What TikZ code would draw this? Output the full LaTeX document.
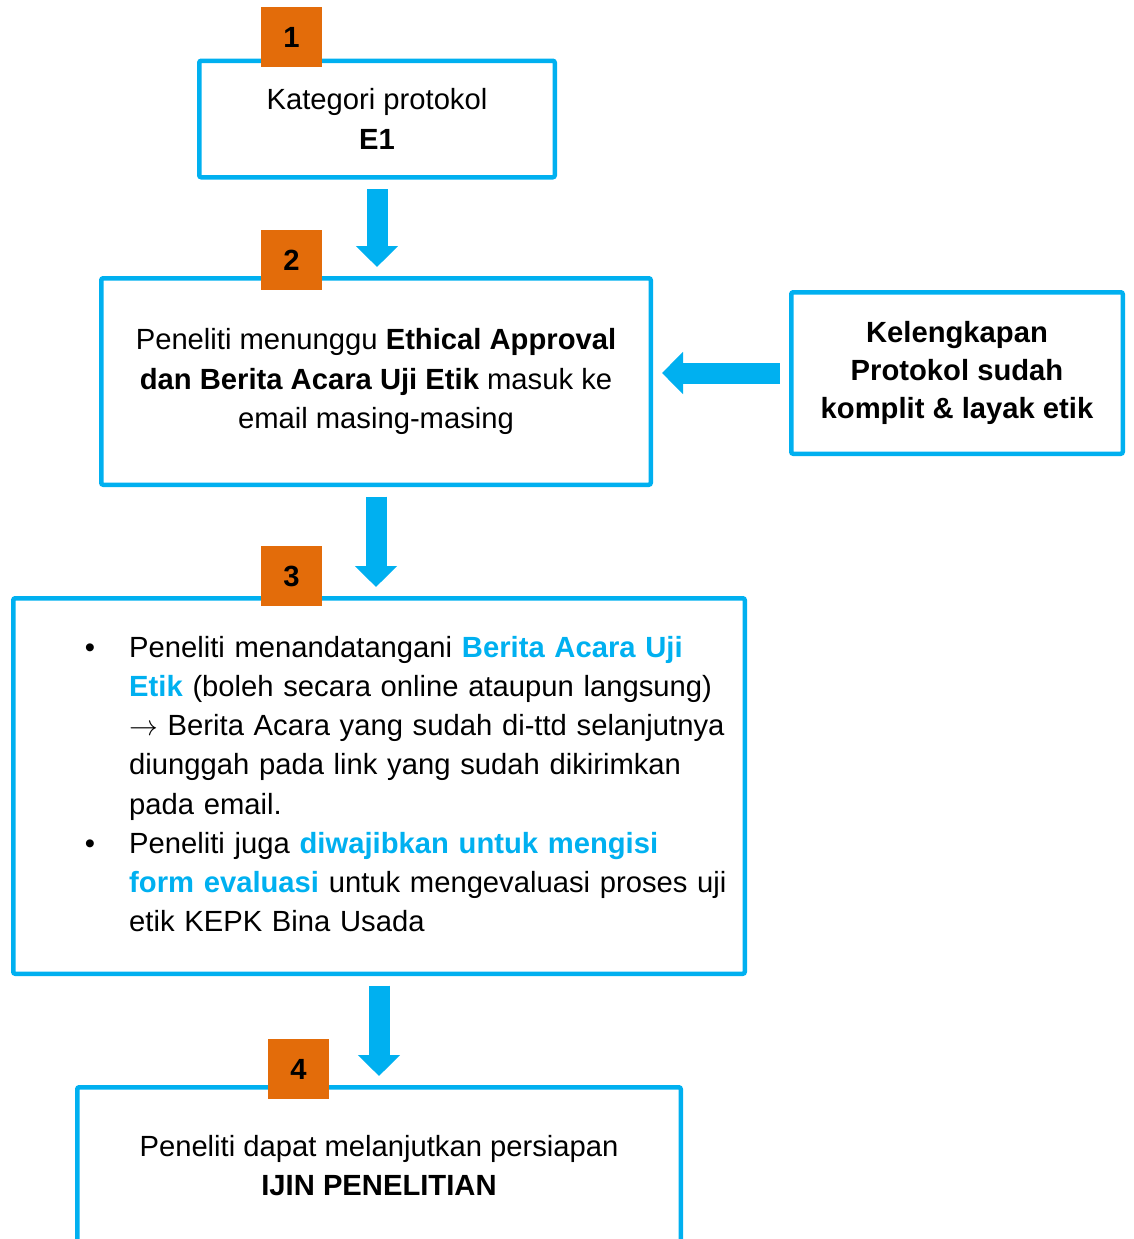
\documentclass[tikz,border=0pt]{standalone}
\usepackage{fontspec}
\setmainfont{Liberation Sans}
\usetikzlibrary{arrows.meta}
\definecolor{kepkblue}{HTML}{00B0F0}
\definecolor{kepkorange}{HTML}{E36C0A}

\begin{document}
\begin{tikzpicture}[x=0.5pt, y=-0.5pt, font=\fontsize{14.6pt}{19.6pt}\selectfont]
    \tikzstyle{box}=[draw=kepkblue, line width=2.25pt, rounded corners=1pt, align=center, inner sep=0pt]
    \tikzstyle{badge}=[fill=kepkorange, minimum width=30.5pt, minimum height=30pt, inner sep=0pt, font=\fontsize{14.6pt}{19.6pt}\selectfont\bfseries]
    \tikzstyle{flow}=[kepkblue, line width=10.5pt, -{Triangle[width=20.5pt, length=10.5pt]}, shorten <=4.75pt, shorten >=4.5pt]

    \useasboundingbox (0,0) rectangle (1134,1239);
    \clip (0,0) rectangle (1134,1239);

    % step boxes
    \node[box, minimum width=177.75pt, minimum height=58.25pt] (b1) at (377,119)
        {Kategori protokol\\ \textbf{E1}};
    \node[box, minimum width=274.75pt, minimum height=103.25pt] (b2) at (376,381.5)
        {Peneliti menunggu \textbf{Ethical Approval}\\
         \textbf{dan Berita Acara Uji Etik} masuk ke\\
         email masing-masing};
    \node[box, minimum width=365.75pt, minimum height=187.75pt] (b3) at (379,786) {};
    \node[box, minimum width=301.75pt, minimum height=78.25pt] (b4) at (379,1165.5)
        {Peneliti dapat melanjutkan persiapan\\ \textbf{IJIN PENELITIAN}};

    % side box
    \node[box, minimum width=165.75pt, minimum height=80.75pt, font=\fontsize{14.6pt}{19.2pt}\selectfont\bfseries] (side) at (957,373)
        {Kelengkapan\\ Protokol sudah\\ komplit \& layak etik};

    % text of step 3
    \node[anchor=west, align=left, text width=300pt, inner sep=0pt] (t3) at ([xshift=58.9pt, yshift=1pt]b3.west) {%
        \leavevmode\llap{\textbullet\hspace{17pt}}Peneliti menandatangani \textcolor{kepkblue}{\textbf{Berita Acara Uji}}\\
        \textcolor{kepkblue}{\textbf{Etik}} (boleh secara online ataupun langsung)\\
        $\rightarrow$ Berita Acara yang sudah di-ttd selanjutnya\\
        diunggah pada link yang sudah dikirimkan\\
        pada email.\\
        \leavevmode\llap{\textbullet\hspace{17pt}}Peneliti juga \textcolor{kepkblue}{\textbf{diwajibkan untuk mengisi}}\\
        \textcolor{kepkblue}{\textbf{form evaluasi}} untuk mengevaluasi proses uji\\
        etik KEPK Bina Usada};

    % arrows between the steps
    \foreach \src/\dst in {b1/b2, b2/b3, b3/b4}
    \draw[flow] (\src.south) -- (\src.south |- \dst.north);

    \draw[flow] (side.west) -- (side.west -| b2.east);

    % step numbers
    \foreach \n/\x/\y in {1/291.5/37, 2/291.5/260, 3/291.5/576, 4/298.5/1069}
    \node[badge] (n-\n) at (\x,\y) {\n};
\end{tikzpicture}
\end{document}
